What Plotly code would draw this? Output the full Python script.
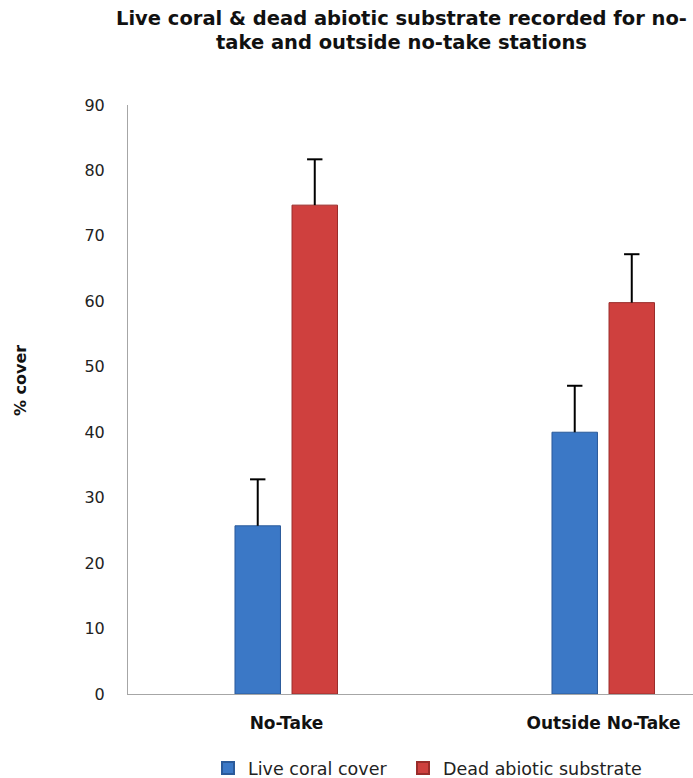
import plotly.graph_objects as go

categories = ["No-Take", "Outside No-Take"]
series_names = ["Live coral cover", "Dead abiotic substrate"]
live_coral = [25.7, 40.0]
live_coral_err = [7.1, 7.1]
dead_abiotic = [74.7, 59.8]
dead_abiotic_err = [7.0, 7.4]
y_ticks = [0, 10, 20, 30, 40, 50, 60, 70, 80, 90]

W, H = 693, 778
L, R, T, B = 128, 0, 105, 84
pw, ph = W - L - R, H - T - B

def px_x(x):
    return (x - L) / pw

def px_y(y):
    return (H - B - y) / ph

xpos = list(range(len(categories)))
bar_w = 0.1435
offsets = [-0.1625, 0.0174]
colors = ["#3b78c6", "#cf403e"]
edges = ["#2a5a9a", "#9a2c2a"]
values = [live_coral, dead_abiotic]
errors = [live_coral_err, dead_abiotic_err]
legend_ids = ["legend", "legend2"]
legend_x_px = [208, 403]

fig = go.Figure()
for i in range(2):
    fig.add_trace(go.Bar(
        x=xpos, y=values[i], name=series_names[i], legend=legend_ids[i],
        width=bar_w, offset=offsets[i],
        marker=dict(color=colors[i], line=dict(color=edges[i], width=1)),
    ))

# upward-only error bars: stem + top cap, positioned at bar centres
for i in range(2):
    cx = [p + offsets[i] + bar_w / 2 for p in xpos]
    lx, ly = [], []
    for c, v, e in zip(cx, values[i], errors[i]):
        lx += [c, c, None]
        ly += [v, v + e, None]
    fig.add_trace(go.Scatter(x=lx, y=ly, mode="lines", line=dict(color="black", width=2),
                             showlegend=False, hoverinfo="skip"))
    fig.add_trace(go.Scatter(x=cx, y=[v + e for v, e in zip(values[i], errors[i])],
                             mode="markers",
                             marker=dict(symbol="line-ew-open", size=11, color="black",
                                         line=dict(color="black", width=2)),
                             showlegend=False, hoverinfo="skip"))

legend_style = dict(orientation="h", xanchor="left", y=px_y(768), yanchor="middle",
                    font=dict(family="DejaVu Sans", size=17.5, color="#222"),
                    bgcolor="rgba(0,0,0,0)", itemsizing="constant")

fig.update_layout(
    width=W, height=H,
    margin=dict(l=L, r=R, t=T, b=B, pad=0, autoexpand=False),
    paper_bgcolor="white", plot_bgcolor="white",
    barmode="overlay",
    font=dict(family="DejaVu Sans", size=16, color="#222"),
    showlegend=True,
    legend=dict(x=px_x(legend_x_px[0]), **legend_style),
    legend2=dict(x=px_x(legend_x_px[1]), **legend_style),
    xaxis=dict(range=[-0.5, -0.5 + pw / 317.0], tickmode="array", tickvals=xpos,
               ticktext=["<b>%s</b>" % c for c in categories],
               tickfont=dict(family="DejaVu Sans", size=17, color="#111"),
               showline=True, linecolor="#a6a6a6", linewidth=1, showgrid=False,
               zeroline=False, ticks="", ticklabelstandoff=14, fixedrange=True),
    yaxis=dict(range=[0, 90], tickmode="array", tickvals=y_ticks,
               tickfont=dict(family="DejaVu Sans", size=16, color="#222"),
               showline=True, linecolor="#a6a6a6", linewidth=1, showgrid=False,
               zeroline=False, ticks="", ticklabelstandoff=19),
    annotations=[
        dict(text="<b>Live coral & dead abiotic substrate recorded for no-</b>",
             x=px_x(401), y=px_y(19), xref="paper", yref="paper",
             xanchor="center", yanchor="middle", showarrow=False,
             font=dict(family="DejaVu Sans", size=19.5, color="#111")),
        dict(text="<b>take and outside no-take stations</b>",
             x=px_x(401), y=px_y(43), xref="paper", yref="paper",
             xanchor="center", yanchor="middle", showarrow=False,
             font=dict(family="DejaVu Sans", size=19.5, color="#111")),
        dict(text="<b>% cover</b>", textangle=-90,
             x=px_x(20), y=px_y(381), xref="paper", yref="paper",
             xanchor="center", yanchor="middle", showarrow=False,
             font=dict(family="DejaVu Sans", size=16, color="#111")),
    ],
)

fig.write_html("out.html", config={"displayModeBar": False},
               post_script="document.body.style.margin='0px';")
